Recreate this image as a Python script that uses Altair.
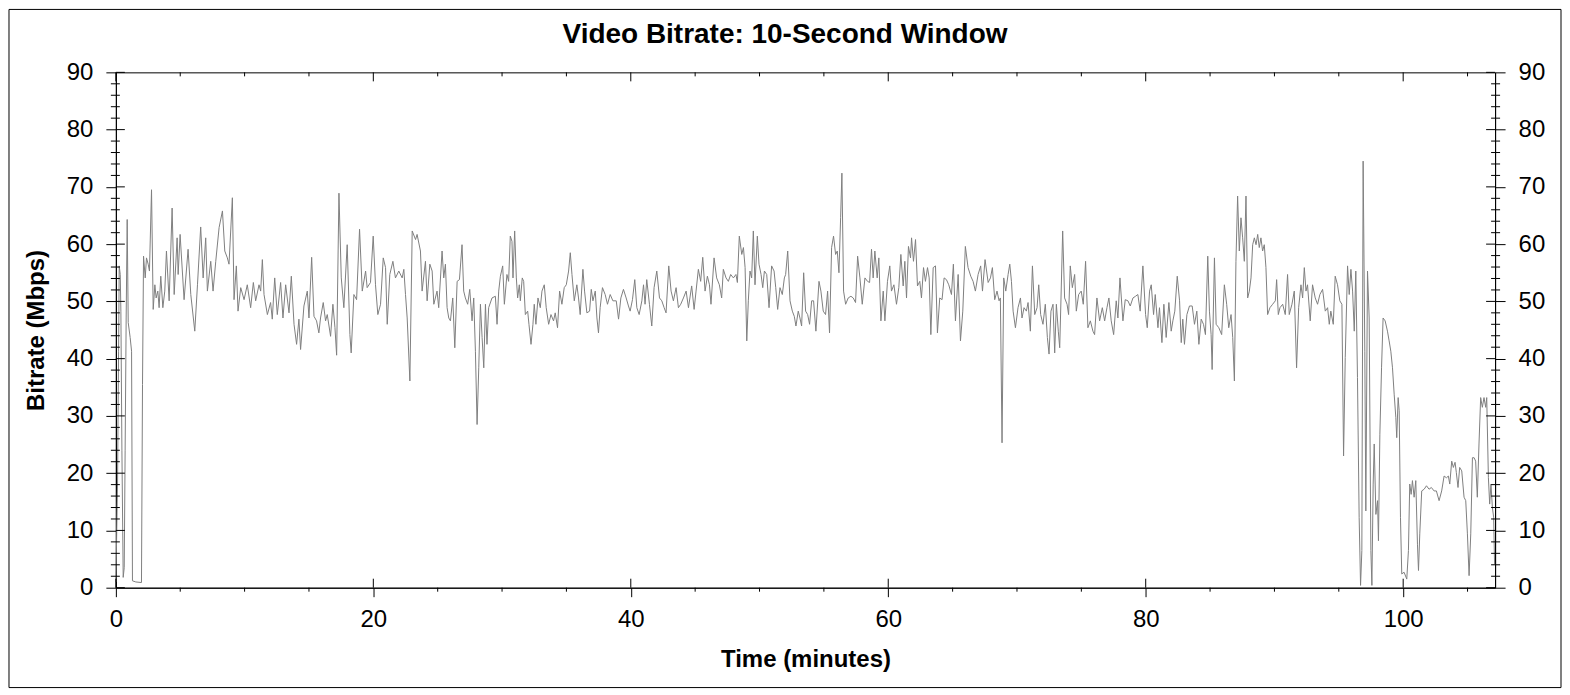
import altair as alt
import pandas as pd

# ---------------- data ----------------
time_min = [
    0.00, 0.13, 0.21, 0.26, 0.34, 0.39, 0.47, 0.57, 0.65, 0.72,
    0.80, 0.88, 0.96, 1.11, 1.22, 1.29, 1.55, 1.99, 2.07, 2.15,
    2.28, 2.38, 2.51, 2.61, 2.77, 2.90, 3.03, 3.13, 3.26, 3.36,
    3.49, 3.65, 3.80, 3.93, 4.14, 4.37, 4.53, 4.76, 4.84, 4.99,
    5.30, 5.61, 5.82, 6.13, 6.34, 6.59, 6.78, 6.98, 7.11, 7.37,
    7.55, 7.76, 8.02, 8.28, 8.46, 8.66, 8.79, 9.05, 9.18, 9.36,
    9.49, 9.70, 9.96, 10.21, 10.47, 10.68, 10.86, 11.12, 11.25, 11.38,
    11.51, 11.77, 12.02, 12.15, 12.34, 12.54, 12.80, 12.98, 13.19, 13.45,
    13.63, 13.84, 14.04, 14.22, 14.35, 14.61, 14.87, 15.00, 15.21, 15.39,
    15.59, 15.77, 15.90, 16.11, 16.29, 16.42, 16.68, 16.86, 17.02, 17.15,
    17.33, 17.51, 17.71, 17.97, 18.18, 18.28, 18.49, 18.70, 18.93, 19.14,
    19.40, 19.52, 19.78, 19.99, 20.17, 20.35, 20.56, 20.77, 20.95, 21.08,
    21.28, 21.52, 21.72, 21.98, 22.24, 22.37, 22.50, 22.63, 22.84, 23.02,
    23.28, 23.40, 23.66, 23.79, 24.05, 24.18, 24.39, 24.57, 24.70, 24.95,
    25.08, 25.34, 25.47, 25.60, 25.73, 25.86, 25.99, 26.17, 26.33, 26.51,
    26.69, 26.89, 27.02, 27.15, 27.33, 27.49, 27.67, 27.80, 27.93, 28.06,
    28.19, 28.32, 28.45, 28.58, 28.71, 28.83, 28.96, 29.22, 29.48, 29.61,
    29.74, 29.87, 30.05, 30.18, 30.38, 30.51, 30.64, 30.77, 30.85, 30.98,
    31.11, 31.21, 31.34, 31.42, 31.57, 31.68, 31.81, 31.99, 32.09, 32.25,
    32.40, 32.50, 32.63, 32.79, 32.97, 33.10, 33.28, 33.43, 33.62, 33.80,
    34.00, 34.13, 34.31, 34.47, 34.65, 34.83, 34.99, 35.17, 35.30, 35.43,
    35.61, 35.81, 35.94, 36.07, 36.28, 36.41, 36.59, 36.80, 36.93, 37.06,
    37.24, 37.37, 37.49, 37.62, 37.80, 38.01, 38.19, 38.40, 38.61, 38.87,
    39.05, 39.23, 39.43, 39.64, 39.82, 39.95, 40.13, 40.31, 40.47, 40.65,
    40.86, 40.99, 41.11, 41.24, 41.45, 41.63, 41.81, 42.02, 42.23, 42.41,
    42.59, 42.74, 42.95, 43.13, 43.31, 43.52, 43.70, 43.88, 44.09, 44.30,
    44.48, 44.73, 44.92, 45.07, 45.25, 45.43, 45.59, 45.77, 45.95, 46.11,
    46.23, 46.47, 46.67, 46.88, 47.06, 47.19, 47.40, 47.58, 47.76, 47.97,
    48.17, 48.28, 48.43, 48.62, 48.75, 48.88, 49.01, 49.13, 49.26, 49.39,
    49.52, 49.65, 49.83, 49.96, 50.12, 50.25, 50.38, 50.56, 50.74, 50.94,
    51.13, 51.26, 51.41, 51.59, 51.77, 51.93, 52.03, 52.19, 52.37, 52.55,
    52.70, 52.83, 53.01, 53.14, 53.27, 53.43, 53.58, 53.74, 53.89, 54.05,
    54.20, 54.38, 54.62, 54.77, 54.95, 55.13, 55.29, 55.44, 55.60, 55.75,
    55.91, 56.04, 56.17, 56.30, 56.40, 56.53, 56.69, 56.89, 57.10, 57.28,
    57.46, 57.62, 57.80, 57.98, 58.19, 58.39, 58.55, 58.70, 58.83, 58.96,
    59.14, 59.27, 59.43, 59.61, 59.74, 59.94, 60.12, 60.25, 60.44, 60.64,
    60.82, 60.98, 61.16, 61.29, 61.42, 61.57, 61.73, 61.81, 61.96, 62.12,
    62.27, 62.45, 62.58, 62.74, 62.89, 63.05, 63.18, 63.31, 63.49, 63.67,
    63.82, 64.00, 64.18, 64.34, 64.52, 64.70, 64.91, 65.06, 65.22, 65.43,
    65.61, 65.79, 65.99, 66.20, 66.41, 66.59, 66.77, 66.98, 67.18, 67.32,
    67.52, 67.76, 67.94, 68.09, 68.27, 68.45, 68.61, 68.71, 68.84, 68.97,
    69.13, 69.31, 69.44, 69.57, 69.70, 69.88, 70.08, 70.27, 70.39, 70.55,
    70.73, 70.86, 71.04, 71.20, 71.38, 71.56, 71.69, 71.84, 72.02, 72.20,
    72.36, 72.49, 72.64, 72.80, 72.93, 73.06, 73.21, 73.32, 73.42, 73.55,
    73.70, 73.89, 74.01, 74.14, 74.30, 74.48, 74.61, 74.79, 74.99, 75.15,
    75.33, 75.51, 75.70, 75.90, 76.03, 76.21, 76.42, 76.63, 76.81, 76.99,
    77.14, 77.32, 77.51, 77.71, 77.84, 78.00, 78.23, 78.41, 78.62, 78.80,
    79.01, 79.21, 79.39, 79.57, 79.78, 79.99, 80.12, 80.30, 80.43, 80.61,
    80.74, 80.95, 81.07, 81.26, 81.41, 81.59, 81.80, 81.98, 82.11, 82.26,
    82.45, 82.63, 82.76, 82.88, 83.01, 83.20, 83.40, 83.61, 83.79, 83.97,
    84.13, 84.31, 84.49, 84.64, 84.82, 84.95, 85.08, 85.16, 85.34, 85.47,
    85.68, 85.90, 86.11, 86.29, 86.45, 86.63, 86.76, 86.89, 87.01, 87.14,
    87.27, 87.40, 87.53, 87.66, 87.79, 87.92, 88.05, 88.18, 88.31, 88.44,
    88.57, 88.70, 88.82, 88.95, 89.08, 89.21, 89.34, 89.47, 89.65, 89.86,
    90.07, 90.17, 90.30, 90.43, 90.64, 90.84, 91.02, 91.15, 91.36, 91.54,
    91.72, 91.88, 92.06, 92.19, 92.32, 92.45, 92.57, 92.78, 92.96, 93.17,
    93.35, 93.53, 93.74, 93.95, 94.13, 94.26, 94.38, 94.57, 94.72, 94.90,
    95.08, 95.24, 95.37, 95.50, 95.68, 95.81, 95.94, 96.07, 96.20, 96.32,
    96.45, 96.58, 96.69, 96.79, 96.89, 97.02, 97.10, 97.23, 97.36, 97.49,
    97.57, 97.67, 97.75, 97.88, 98.01, 98.08, 98.19, 98.32, 98.44, 98.60,
    98.78, 98.91, 99.04, 99.17, 99.30, 99.43, 99.50, 99.61, 99.69, 99.79,
    99.89, 100.07, 100.28, 100.41, 100.51, 100.62, 100.72, 100.85, 100.98, 101.11,
    101.19, 101.29, 101.44, 101.63, 101.81, 102.01, 102.19, 102.40, 102.58, 102.79,
    102.99, 103.18, 103.36, 103.51, 103.62, 103.77, 103.90, 104.03, 104.13, 104.26,
    104.39, 104.55, 104.73, 104.86, 104.99, 105.12, 105.25, 105.38, 105.51, 105.63,
    105.76, 105.89, 106.02, 106.15, 106.28, 106.41, 106.49, 106.62, 106.72, 106.82,
    106.93, 107.03, 107.10,
]

bitrate_mbps = [
    1.0, 18.1, 41.3, 56.2, 54.7, 48.3, 23.9, 1.8, 3.5, 23.9,
    47.1, 64.3, 46.3, 43.7, 41.3, 1.2, 1.0, 0.9, 35.5, 57.9,
    54.1, 57.6, 56.5, 55.3, 69.5, 48.6, 52.9, 50.6, 51.8, 48.9,
    54.4, 48.9, 51.8, 58.8, 50.1, 66.3, 51.2, 61.1, 54.7, 61.7,
    50.3, 59.1, 51.2, 44.8, 52.9, 63.0, 54.1, 61.1, 51.8, 57.0,
    51.8, 57.0, 62.9, 65.8, 58.8, 57.6, 56.5, 68.1, 50.3, 56.2,
    48.3, 52.4, 50.3, 52.9, 48.9, 53.3, 50.1, 52.9, 51.8, 57.3,
    51.2, 47.7, 49.8, 46.9, 54.1, 47.7, 53.3, 47.1, 52.9, 48.0,
    54.4, 46.0, 42.5, 46.9, 41.6, 49.2, 51.8, 47.1, 57.7, 47.4,
    46.6, 44.5, 47.1, 49.8, 46.6, 47.7, 43.9, 49.5, 45.4, 40.6,
    68.9, 54.1, 48.9, 59.9, 44.2, 41.0, 51.2, 50.3, 62.6, 51.8,
    55.3, 52.4, 53.3, 61.4, 52.9, 47.7, 49.5, 57.6, 55.9, 46.0,
    54.7, 57.0, 54.1, 55.3, 54.1, 55.6, 51.2, 47.1, 36.1, 62.3,
    60.8, 61.7, 58.8, 51.8, 57.0, 50.1, 56.5, 55.3, 49.5, 51.8,
    48.9, 58.8, 54.1, 56.5, 48.9, 47.1, 46.6, 50.6, 41.9, 53.5,
    53.8, 59.9, 51.8, 50.6, 49.5, 52.1, 46.6, 50.6, 41.3, 28.5,
    38.4, 49.5, 43.7, 38.4, 49.5, 42.5, 48.9, 50.6, 50.9, 46.0,
    51.8, 54.4, 56.2, 49.5, 54.7, 53.5, 61.4, 60.5, 54.1, 62.3,
    54.1, 50.6, 52.9, 50.1, 54.1, 53.5, 47.7, 48.3, 46.0, 42.5,
    46.0, 49.5, 46.0, 50.6, 48.9, 51.8, 52.9, 48.9, 46.0, 47.7,
    46.6, 48.0, 45.4, 51.8, 49.5, 52.4, 52.9, 55.3, 58.5, 54.7,
    50.1, 52.9, 50.6, 47.7, 55.6, 51.8, 48.0, 48.3, 52.1, 50.1,
    51.8, 47.1, 44.5, 48.9, 52.4, 51.2, 49.5, 51.2, 50.1, 50.1,
    46.9, 50.6, 52.1, 50.6, 49.2, 48.3, 50.3, 53.8, 48.9, 47.7,
    50.1, 52.9, 49.5, 53.8, 49.5, 45.7, 52.4, 55.3, 50.6, 50.1,
    48.9, 48.0, 56.2, 51.8, 50.1, 52.4, 48.9, 49.5, 50.6, 51.8,
    48.9, 52.7, 48.6, 51.8, 55.6, 53.5, 57.7, 51.8, 54.4, 52.9,
    49.5, 57.6, 54.1, 52.9, 50.6, 55.6, 54.1, 53.5, 54.7, 54.1,
    54.7, 53.3, 61.4, 58.2, 59.4, 55.9, 43.1, 50.1, 55.3, 54.1,
    62.3, 52.9, 61.4, 56.5, 54.7, 52.4, 55.3, 54.7, 48.9, 56.2,
    55.3, 52.4, 48.6, 52.4, 51.2, 54.1, 54.7, 58.8, 50.1, 48.3,
    47.4, 45.7, 48.3, 47.1, 45.7, 55.0, 48.3, 47.7, 46.0, 50.1,
    50.1, 44.8, 53.5, 51.8, 48.3, 47.7, 51.8, 44.5, 59.4, 61.4,
    58.2, 58.8, 55.0, 64.6, 72.4, 51.8, 49.5, 50.6, 50.9, 50.6,
    49.8, 57.9, 54.1, 49.5, 54.1, 53.5, 53.3, 59.1, 54.1, 58.8,
    54.1, 57.6, 46.6, 51.8, 46.6, 53.5, 56.2, 51.8, 52.9, 49.5,
    52.4, 58.2, 52.7, 57.0, 50.6, 59.6, 57.6, 61.1, 57.0, 60.8,
    52.7, 53.5, 50.6, 55.9, 53.5, 55.9, 54.1, 44.2, 55.9, 56.2,
    44.5, 50.6, 50.3, 54.1, 53.8, 52.9, 51.2, 56.5, 46.6, 54.7,
    43.1, 48.3, 59.6, 55.9, 54.4, 53.5, 51.8, 54.7, 56.2, 51.8,
    57.3, 53.3, 54.1, 55.9, 50.3, 51.8, 50.1, 50.6, 25.3, 54.1,
    51.8, 54.7, 56.5, 53.5, 48.3, 45.4, 48.9, 50.6, 47.1, 48.9,
    48.3, 49.8, 44.8, 56.2, 47.7, 48.9, 52.9, 47.7, 46.0, 49.5,
    43.7, 40.8, 48.3, 49.5, 41.0, 49.5, 44.8, 41.9, 50.6, 62.3,
    50.6, 49.5, 47.7, 56.2, 52.4, 54.7, 48.3, 51.2, 51.8, 49.5,
    57.0, 45.4, 46.6, 44.8, 44.2, 50.6, 46.6, 48.9, 46.6, 48.9,
    50.6, 46.6, 44.2, 50.1, 47.1, 54.1, 46.6, 50.3, 50.1, 49.2,
    50.6, 50.9, 51.2, 48.3, 56.2, 47.7, 45.4, 51.8, 52.9, 47.7,
    51.2, 45.4, 48.9, 42.8, 49.5, 43.7, 49.8, 44.8, 46.6, 48.3,
    54.4, 50.1, 42.8, 46.9, 42.5, 47.7, 49.2, 49.2, 46.0, 48.3,
    42.5, 46.9, 46.0, 44.2, 57.9, 48.3, 44.2, 38.1, 57.6, 46.0,
    45.4, 44.2, 52.9, 49.5, 45.4, 47.7, 43.7, 36.1, 57.0, 68.4,
    58.8, 64.6, 61.1, 57.0, 68.4, 50.6, 51.8, 54.1, 59.9, 61.1,
    59.9, 61.7, 59.4, 61.1, 58.8, 59.9, 55.9, 47.7, 48.9, 49.5,
    50.1, 53.8, 47.7, 48.9, 49.5, 47.7, 54.7, 47.7, 49.5, 51.8,
    38.4, 48.9, 52.9, 50.6, 55.9, 51.8, 52.9, 46.6, 52.9, 50.6,
    49.5, 51.2, 52.1, 48.3, 48.9, 46.0, 48.3, 46.0, 54.4, 52.9,
    50.1, 49.5, 23.0, 40.2, 56.2, 51.2, 55.6, 51.8, 44.8, 55.3,
    36.7, 12.3, 0.4, 6.5, 74.5, 41.3, 13.4, 55.3, 47.1, 6.5,
    0.4, 18.1, 25.1, 12.8, 15.2, 8.2, 26.8, 38.4, 47.1, 46.6,
    44.8, 43.1, 41.3, 38.4, 33.8, 29.7, 26.2, 33.2, 30.9, 12.3,
    2.4, 2.7, 1.5, 6.5, 18.1, 16.3, 18.7, 15.8, 18.7, 7.6,
    3.0, 9.4, 16.9, 17.2, 17.8, 17.2, 17.5, 16.9, 16.9, 15.2,
    16.9, 19.5, 19.2, 19.5, 18.1, 22.1, 21.0, 21.9, 20.1, 17.5,
    21.0, 20.4, 15.8, 15.2, 9.4, 2.1, 9.4, 22.7, 22.7, 22.1,
    15.8, 25.1, 33.2, 31.5, 33.2, 31.5, 33.2, 19.2, 14.6, 18.1,
    14.0, 12.3, 4.1,
]

x_major_ticks = [0, 20, 40, 60, 80, 100]
x_minor_ticks = [5, 10, 15, 25, 30, 35, 45, 50, 55, 65, 70, 75, 85, 90, 95, 105]
y_major_ticks = [0, 10, 20, 30, 40, 50, 60, 70, 80, 90]
y_minor_ticks = [v for v in range(2, 90, 2) if v % 10 != 0]

TITLE = "Video Bitrate: 10-Second Window"
X_TITLE = "Time (minutes)"
Y_TITLE = "Bitrate (Mbps)"

# ---------------- layout ----------------
W, H = 1381, 516
X_DOMAIN = [0, 107.14]
Y_DOMAIN = [0, 90]
FONT = "Liberation Sans"
LABEL_SIZE = 24

df = pd.DataFrame({"t": time_min, "v": bitrate_mbps})
xmaj = pd.DataFrame({"t": x_major_ticks})
xmin = pd.DataFrame({"t": x_minor_ticks})
ymaj = pd.DataFrame({"y": y_major_ticks})
ymin = pd.DataFrame({"y": y_minor_ticks})
one = pd.DataFrame({"k": [0]})

xs = alt.Scale(domain=X_DOMAIN, nice=False, zero=False)
ys = alt.Scale(domain=Y_DOMAIN, nice=False, zero=False)

# identical x axis spec on every layer so that the shared axis merges cleanly
X_AXIS = alt.Axis(
    values=x_major_ticks, tickSize=9, labelPadding=11, labelFlush=False,
    title=X_TITLE, titlePadding=16, format="d")


def xenc():
    return alt.X("t:Q", scale=xs, axis=X_AXIS, title=X_TITLE)


line = alt.Chart(df).mark_line(color="#808080", strokeWidth=1).encode(
    x=xenc(),
    y=alt.Y("v:Q", scale=ys, axis=alt.Axis(
        orient="left", values=y_major_ticks, tickSize=10, labelPadding=13,
        labelFlush=False, title=Y_TITLE, titlePadding=18, format="d")),
)

right_axis = alt.Chart(ymaj).mark_rule(color="black", strokeWidth=1).encode(
    y=alt.Y("y:Q", scale=ys, axis=alt.Axis(
        orient="right", values=y_major_ticks, tickSize=10, labelPadding=13,
        labelFlush=False, title=None, format="d")),
    x=alt.value(W - 9), x2=alt.value(W),
)

left_major_in = alt.Chart(ymaj).mark_rule(color="black", strokeWidth=1).encode(
    y=alt.Y("y:Q", scale=ys, axis=None), x=alt.value(0), x2=alt.value(9))
left_minor = alt.Chart(ymin).mark_rule(color="black", strokeWidth=1).encode(
    y=alt.Y("y:Q", scale=ys, axis=None), x=alt.value(-5), x2=alt.value(4))
right_minor = alt.Chart(ymin).mark_rule(color="black", strokeWidth=1).encode(
    y=alt.Y("y:Q", scale=ys, axis=None), x=alt.value(W - 4), x2=alt.value(W + 5))

bottom_major_in = alt.Chart(xmaj).mark_rule(color="black", strokeWidth=1).encode(
    x=xenc(), y=alt.value(H - 9), y2=alt.value(H))
bottom_minor = alt.Chart(xmin).mark_rule(color="black", strokeWidth=1).encode(
    x=xenc(), y=alt.value(H), y2=alt.value(H + 4))
top_major = alt.Chart(xmaj).mark_rule(color="black", strokeWidth=1).encode(
    x=xenc(), y=alt.value(0), y2=alt.value(9))
top_minor = alt.Chart(xmin).mark_rule(color="black", strokeWidth=1).encode(
    x=xenc(), y=alt.value(0), y2=alt.value(4))

border = alt.Chart(one).mark_rect(filled=False, color="black", strokeWidth=1).encode(
    x=alt.value(-107), x2=alt.value(1447), y=alt.value(-63), y2=alt.value(616))

title = alt.Chart(one).mark_text(
    text=TITLE, font=FONT, fontSize=28, fontWeight="bold", color="black",
    align="center", baseline="alphabetic",
).encode(x=alt.value(670), y=alt.value(-29))

chart = alt.layer(
    border, line, right_axis, left_major_in, left_minor, right_minor,
    bottom_major_in, bottom_minor, top_major, top_minor, title,
).resolve_scale(y="independent").properties(
    width=W, height=H, padding=0,
).configure_view(
    stroke="black", strokeWidth=1,
).configure_axis(
    grid=False, domainColor="black", domainWidth=1, tickColor="black", tickWidth=1,
    labelFont=FONT, labelFontSize=LABEL_SIZE, labelColor="black",
    titleFont=FONT, titleFontSize=24, titleFontWeight="bold", titleColor="black",
)

chart.save("out.html", embed_options={"renderer": "svg", "actions": False})
